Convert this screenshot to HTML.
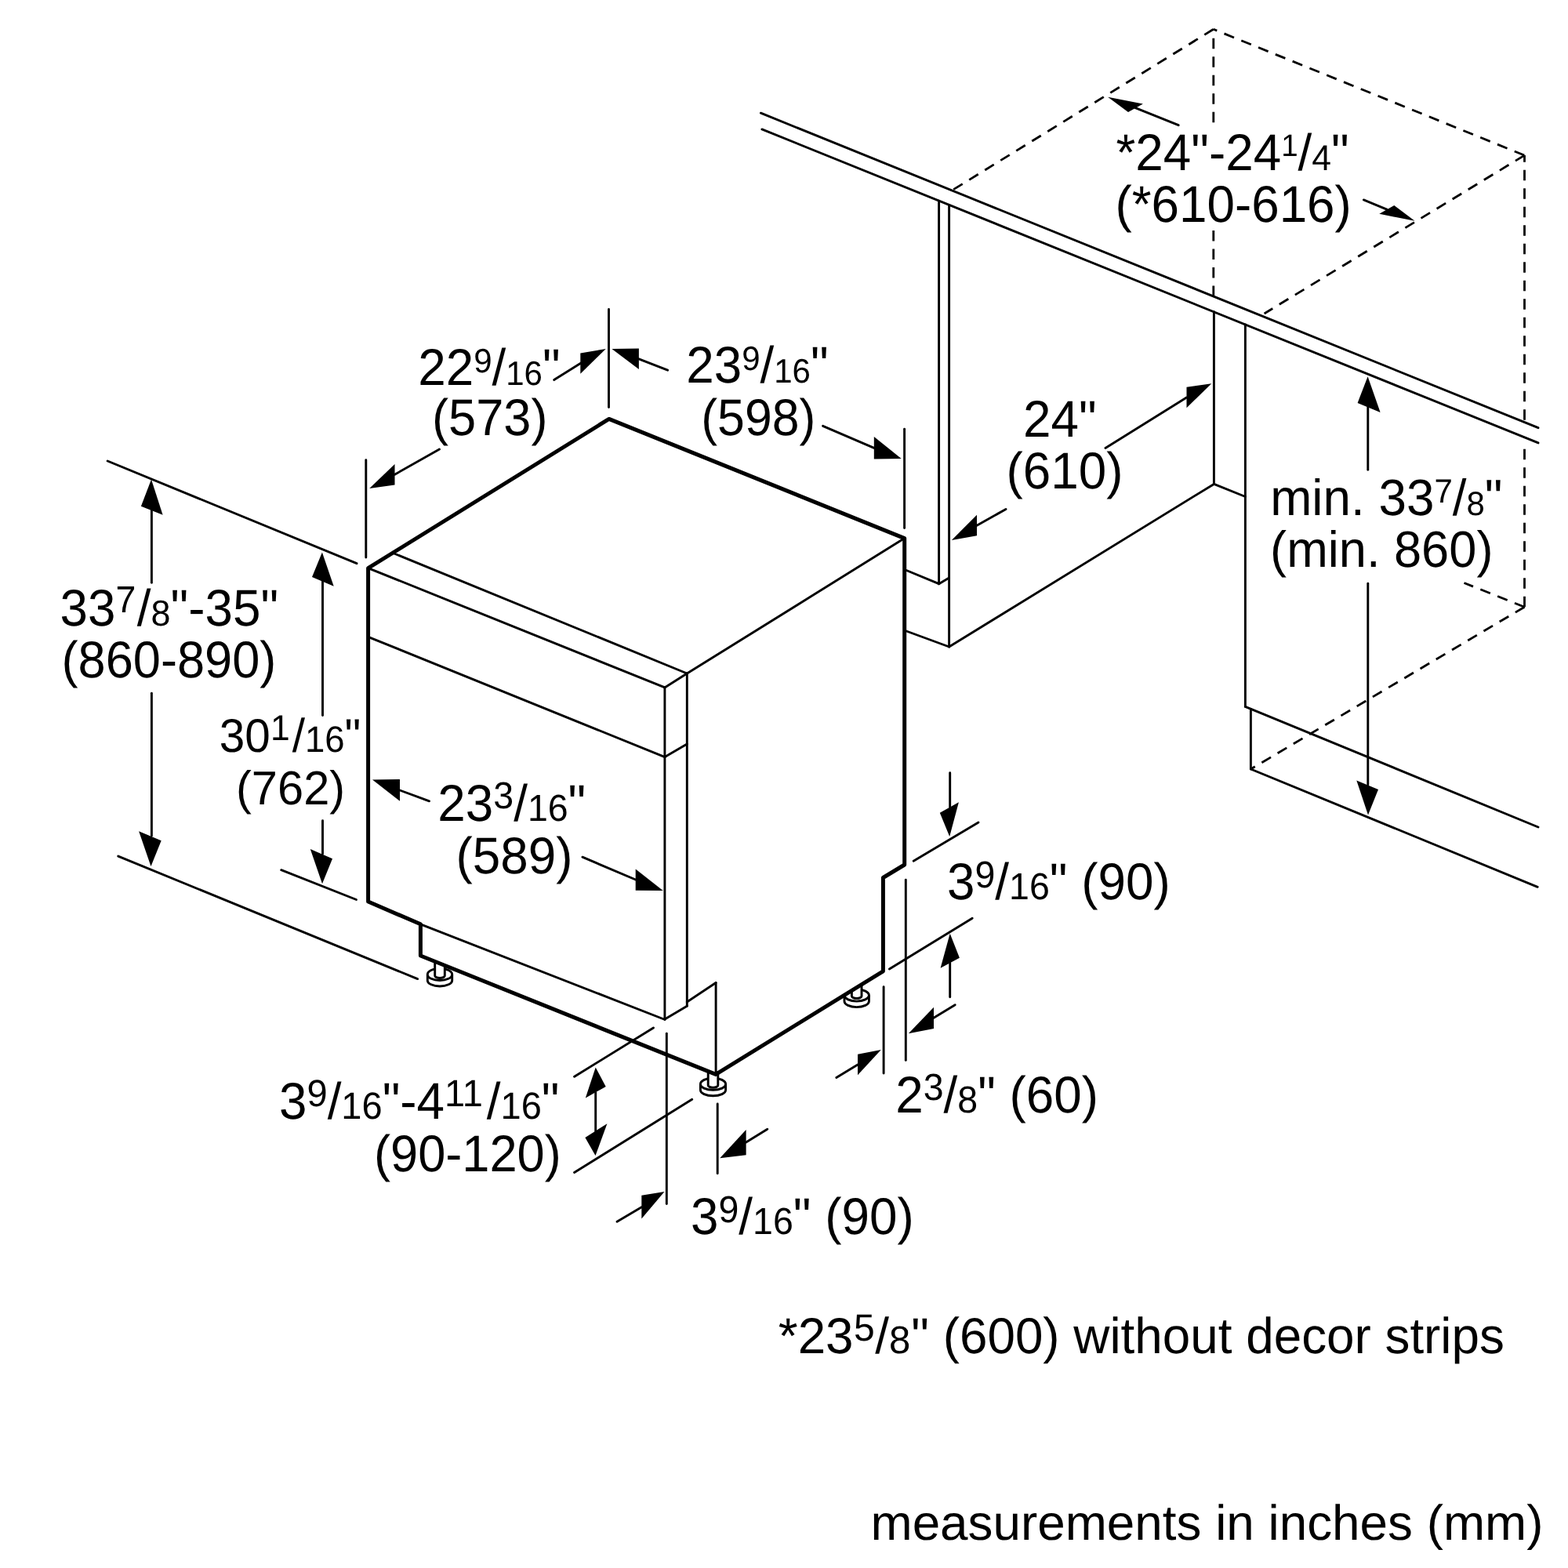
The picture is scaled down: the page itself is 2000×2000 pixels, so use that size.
<!DOCTYPE html>
<html lang="en">
<head>
<meta charset="utf-8">
<title>Dishwasher installation dimensions</title>
<style>
html,body{margin:0;padding:0;background:#fff;}
body{width:2000px;height:2000px;overflow:hidden;}
svg{display:block;}
text{font-family:"Liberation Sans",sans-serif;fill:#000;text-rendering:geometricPrecision;}
</style>
</head>
<body>
<svg width="2000" height="2000" viewBox="0 0 2000 2000" role="img" aria-label="Dishwasher installation dimensions">
<rect width="2000" height="2000" fill="#fff"/>
<!-- hidden edges of the cabinet cut-out -->
<g stroke="#000" fill="none" stroke-linecap="butt" stroke-width="2.8" stroke-dasharray="13.5 10">
<line x1="1547.8" y1="37.3" x2="1215.7" y2="242"/>
<line x1="1547.8" y1="37.3" x2="1944.5" y2="198.1" stroke-dashoffset="8.7"/>
<line x1="1944.5" y1="198.1" x2="1612.6" y2="400"/>
<line x1="1547.8" y1="37.3" x2="1547.8" y2="157.6" stroke-dashoffset="12.1"/>
<line x1="1547.8" y1="294" x2="1547.8" y2="377"/>
<line x1="1944.5" y1="198.1" x2="1944.5" y2="537" stroke-dashoffset="4.8"/>
<line x1="1944.5" y1="572.7" x2="1944.5" y2="774.2"/>
<line x1="1944.5" y1="774.2" x2="1867.5" y2="743.5"/>
<line x1="1944.5" y1="774.2" x2="1595.4" y2="981"/>
</g>
<!-- levelling feet -->
<g stroke="#000" fill="#fff" stroke-width="2.9" stroke-linejoin="round">
<path d="M545.3,1242.9 V1250.4 A15.7,7.6 0 0 0 576.7,1250.4 V1242.9"/>
<ellipse cx="561" cy="1242.9" rx="15.7" ry="7.6"/>
<path d="M554.7,1226 V1244.5 A6.3,3 0 0 0 567.3,1244.5 V1231"/>
<path d="M893.4,1382.7 V1390.2 A16.1,7.6 0 0 0 925.6,1390.2 V1382.7"/>
<ellipse cx="909.5" cy="1382.7" rx="16.1" ry="7.6"/>
<path d="M903.2,1366 V1384.3 A6.3,3 0 0 0 915.8,1384.3 V1366"/>
<path d="M1077,1269.5 V1277 A15.7,7.6 0 0 0 1108.4,1277 V1269.5"/>
<ellipse cx="1092.7" cy="1269.5" rx="15.7" ry="7.6"/>
<path d="M1086.4,1264.5 V1270.5 A6.3,3 0 0 0 1099,1270.5 V1257"/>
</g>
<polygon points="1068,1274.8 1112,1247.8 1112,1230 1068,1250" fill="#fff"/>
<!-- thin outlines, extension and dimension lines -->
<g stroke="#000" fill="none" stroke-linecap="round" stroke-width="2.9">
<line x1="970.4" y1="144.2" x2="1962" y2="545.7"/>
<line x1="971.9" y1="164.9" x2="1962" y2="564.9"/>
<line x1="1197.6" y1="256.2" x2="1197.6" y2="744.7"/>
<line x1="1210.6" y1="261.5" x2="1210.6" y2="825"/>
<line x1="1156.2" y1="727.5" x2="1197.6" y2="744.7"/>
<line x1="1197.6" y1="744.7" x2="1210.6" y2="737"/>
<line x1="1156.2" y1="805" x2="1210.6" y2="825"/>
<line x1="1210.6" y1="825" x2="1548.4" y2="617.4"/>
<line x1="1548.4" y1="397.8" x2="1548.4" y2="617.4"/>
<line x1="1588.4" y1="414" x2="1588.4" y2="901.4"/>
<line x1="1548.4" y1="617.4" x2="1588.4" y2="633.5"/>
<line x1="1588.4" y1="901.4" x2="1962" y2="1055"/>
<line x1="1595.4" y1="904.5" x2="1595.4" y2="981"/>
<line x1="1595.4" y1="981" x2="1961.2" y2="1131.3"/>
<line x1="469.6" y1="724.6" x2="847.9" y2="876.9"/>
<line x1="501.5" y1="705.5" x2="876.3" y2="859"/>
<line x1="847.9" y1="876.9" x2="876.3" y2="859"/>
<line x1="876.3" y1="859" x2="1153.7" y2="686.6"/>
<line x1="847.9" y1="876.9" x2="847.9" y2="1300"/>
<line x1="876.3" y1="859" x2="876.3" y2="1283.3"/>
<line x1="469.6" y1="812.3" x2="848" y2="965.6"/>
<line x1="848" y1="965.6" x2="876.3" y2="949"/>
<line x1="536.4" y1="1178.8" x2="848" y2="1300.5"/>
<line x1="848" y1="1300" x2="876.3" y2="1283.3"/>
<line x1="876.3" y1="1278" x2="913.1" y2="1253.5"/>
<line x1="913.1" y1="1253.5" x2="913.1" y2="1370"/>
<line x1="137.2" y1="588" x2="455" y2="718.7"/>
<line x1="150.8" y1="1092.1" x2="532.6" y2="1248.6"/>
<line x1="358.7" y1="1109.7" x2="454.5" y2="1147.5"/>
<line x1="193.4" y1="650" x2="193.4" y2="743.3"/>
<line x1="193.4" y1="884.3" x2="193.4" y2="1066"/>
<line x1="411.5" y1="740" x2="411.5" y2="912.5"/>
<line x1="411.5" y1="1046.6" x2="411.5" y2="1089"/>
<line x1="776.5" y1="394.5" x2="776.5" y2="519.5"/>
<line x1="466.8" y1="586.8" x2="466.8" y2="711"/>
<line x1="1153.6" y1="547.2" x2="1153.6" y2="673.5"/>
<line x1="706.7" y1="484.6" x2="741.1" y2="463.1"/>
<line x1="560.5" y1="573.1" x2="503.5" y2="605.2"/>
<line x1="851.6" y1="472.2" x2="814.9" y2="457.8"/>
<line x1="1049.6" y1="543.3" x2="1114.8" y2="571.3"/>
<line x1="1410" y1="571.5" x2="1513.5" y2="507"/>
<line x1="1283" y1="649.4" x2="1246" y2="670.3"/>
<line x1="1503.2" y1="159.7" x2="1448.3" y2="137.7"/>
<line x1="1739.4" y1="254.9" x2="1768.9" y2="267.1"/>
<line x1="1744.8" y1="515" x2="1744.8" y2="599.3"/>
<line x1="1744.8" y1="744.2" x2="1744.8" y2="1001"/>
<line x1="547.5" y1="1021.8" x2="510" y2="1008"/>
<line x1="742.9" y1="1093.2" x2="810.7" y2="1122"/>
<line x1="1211.7" y1="985.7" x2="1211.7" y2="1030"/>
<line x1="1165.2" y1="1098.3" x2="1248" y2="1049.1"/>
<line x1="1134.4" y1="1236" x2="1240.2" y2="1171.3"/>
<line x1="1211.7" y1="1228" x2="1211.7" y2="1271.7"/>
<line x1="1127.1" y1="1258.7" x2="1127.1" y2="1369"/>
<line x1="1155.3" y1="1122.1" x2="1155.3" y2="1352.4"/>
<line x1="1218.2" y1="1281.8" x2="1191" y2="1298.2"/>
<line x1="1066.8" y1="1374.4" x2="1094" y2="1358"/>
<line x1="732.6" y1="1373.3" x2="833.5" y2="1311"/>
<line x1="732.6" y1="1495.5" x2="882.7" y2="1402.3"/>
<line x1="759.7" y1="1393" x2="759.7" y2="1443"/>
<line x1="850.3" y1="1318.2" x2="850.3" y2="1535.6"/>
<line x1="915.2" y1="1408" x2="915.2" y2="1496.8"/>
<line x1="787" y1="1558.2" x2="818.3" y2="1539.7"/>
<line x1="978.8" y1="1440.2" x2="951.6" y2="1457"/>
</g>
<!-- appliance outline -->
<path d="M469.6,724.6 L776.8,534.4 L1153.7,686.6 L1153.7,1103.0 L1126.4,1119.5 L1126.4,1238.8 L913.0,1370.4 L536.4,1219.0 L536.4,1178.8 L469.6,1150.0 Z" fill="none" stroke="#000" stroke-width="5.0" stroke-linejoin="round" stroke-linecap="round"/>
<!-- arrow heads -->
<g fill="#000" stroke="none">
<polygon points="193,611.5 179.9,645.7 207.6,656.8"/>
<polygon points="192.5,1105 177.1,1060.2 205.7,1072.2"/>
<polygon points="410.9,704.5 398,736 425.7,747.7"/>
<polygon points="411,1127.3 395.8,1082.9 424,1095.2"/>
<polygon points="772.7,445 740.3,450.4 740.3,476.8"/>
<polygon points="471.2,623 503.5,592 503.5,618.4"/>
<polygon points="780.4,445 814.9,444.5 814.9,471.1"/>
<polygon points="1149.7,585 1114.8,557 1114.8,585.5"/>
<polygon points="1545.3,489.3 1513.5,493.7 1513.5,520.3"/>
<polygon points="1213.8,688.9 1246,656.8 1246,683.3"/>
<polygon points="1413.1,123.7 1457.9,132.5 1439,143.1"/>
<polygon points="1804.5,281.8 1778.3,262 1759.3,272.8"/>
<polygon points="1744.6,480.2 1731.6,513.9 1760.6,526"/>
<polygon points="1745,1039.4 1730.3,995.4 1758,1007"/>
<polygon points="475,994.6 510,994.1 510,1021.8"/>
<polygon points="845.7,1136 810.7,1108.5 810.7,1135.7"/>
<polygon points="1211.2,1067 1198.8,1036.7 1222.9,1023.2"/>
<polygon points="1211.7,1190.7 1199.6,1234.7 1223.9,1221.7"/>
<polygon points="1158.8,1318.2 1191,1284.8 1191,1312"/>
<polygon points="1123.8,1339 1094,1344.7 1094,1371.3"/>
<polygon points="759.7,1361.4 746.8,1400.5 772.7,1386"/>
<polygon points="759.5,1474 746.4,1451 774.4,1433.2"/>
<polygon points="847.5,1520 818.3,1524.8 818.3,1554.6"/>
<polygon points="918.2,1477.2 951.6,1441 951.6,1473.2"/>
</g>
<!-- dimension labels -->
<g style="filter:grayscale(1)">
<text transform="translate(76.5 797.8) scale(1 1.03)" font-size="63.8">33<tspan font-size="46.5" dy="-16.02">7</tspan><tspan dy="16.02" dx="1.5">/</tspan><tspan font-size="45">8</tspan>&quot;-35&quot;</text>
<text transform="translate(78.5 864) scale(0.99 1.03)" font-size="63.8">(860-890)</text>
<text transform="translate(279.8 959.3) scale(1 1.03)" font-size="58.5">30<tspan font-size="44.5" dy="-15.24">1</tspan><tspan dy="15.24" dx="3">/</tspan><tspan font-size="45.5">16</tspan>&quot;</text>
<text transform="translate(301 1026.2) scale(1.01 1.03)" font-size="59">(762)</text>
<text transform="translate(533.2 491) scale(1 1.03)" font-size="63.8">22<tspan font-size="42" dy="-15.53">9</tspan><tspan dy="15.53">/</tspan><tspan font-size="42">16</tspan>&quot;</text>
<text transform="translate(551 555) scale(0.99 1.03)" font-size="63.8">(573)</text>
<text transform="translate(875.2 488.3) scale(1 1.03)" font-size="63.8">23<tspan font-size="42" dy="-15.53">9</tspan><tspan dy="15.53">/</tspan><tspan font-size="42">16</tspan>&quot;</text>
<text transform="translate(894.3 555) scale(0.98 1.03)" font-size="63.8">(598)</text>
<text transform="translate(1305 557.2) scale(1 1.03)" font-size="63.8">24&quot;</text>
<text transform="translate(1283.5 623) scale(1 1.03)" font-size="63.8">(610)</text>
<text transform="translate(1423.5 216.6) scale(1 1.03)" font-size="63.8">*24&quot;-24<tspan font-size="38.5" dy="-16.89">1</tspan><tspan dy="16.89">/</tspan><tspan font-size="44.5">4</tspan>&quot;</text>
<text transform="translate(1422.4 283.1) scale(1 1.03)" font-size="63.8">(*610-616)</text>
<text transform="translate(1620.2 657) scale(1 1.02)" font-size="63.8">min. 33<tspan font-size="42" dy="-15.69">7</tspan><tspan dy="15.69">/</tspan><tspan font-size="42">8</tspan>&quot;</text>
<text transform="translate(1620.1 722.5) scale(0.99 1.02)" font-size="63.8">(min. 860)</text>
<text transform="translate(558.3 1047) scale(1 1.03)" font-size="63.8">23<tspan font-size="46.5" dy="-15.24">3</tspan><tspan dy="15.24">/</tspan><tspan font-size="46.5">16</tspan>&quot;</text>
<text transform="translate(581.5 1113.5) scale(1 1.03)" font-size="63.8">(589)</text>
<text transform="translate(1208 1147.2) scale(1 1.03)" font-size="63.8">3<tspan font-size="46.5" dy="-14.76">9</tspan><tspan dy="14.76">/</tspan><tspan font-size="46.5">16</tspan>&quot; (90)</text>
<text transform="translate(1142.2 1419) scale(1 1.03)" font-size="63.8">2<tspan font-size="46.5" dy="-15.24">3</tspan><tspan dy="15.24">/</tspan><tspan font-size="46.5">8</tspan>&quot; (60)</text>
<text transform="translate(356 1427) scale(1 1.03)" font-size="63.8">3<tspan font-size="47" dy="-15.53">9</tspan><tspan dy="15.53">/</tspan><tspan font-size="47">16</tspan>&quot;-4<tspan font-size="47" dy="-15.53">11</tspan><tspan dy="15.53" dx="5">/</tspan><tspan font-size="47">16</tspan>&quot;</text>
<text transform="translate(477 1494) scale(0.99 1.03)" font-size="63.8">(90-120)</text>
<text transform="translate(881 1574) scale(1 1.03)" font-size="63.8">3<tspan font-size="46.5" dy="-15.05">9</tspan><tspan dy="15.05">/</tspan><tspan font-size="46.5">16</tspan>&quot; (90)</text>
<text transform="translate(992.8 1725.8) scale(1 1.01)" font-size="63.8">*23<tspan font-size="48" dy="-15.84" dx="0.5">5</tspan><tspan dy="15.84" dx="0.5">/</tspan><tspan font-size="49">8</tspan><tspan dx="1">&quot; (600) without decor strips</tspan></text>
<text transform="translate(1110.5 1964.5) scale(1 0.99)" font-size="63.8">measurements in inches (mm)</text>
</g>
</svg>
</body>
</html>
